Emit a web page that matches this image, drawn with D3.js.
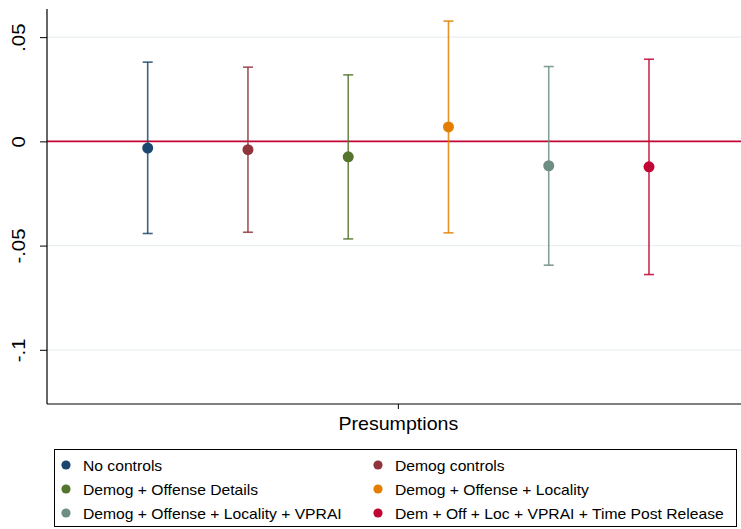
<!DOCTYPE html>
<html>
<head>
<meta charset="utf-8">
<script src="https://cdn.jsdelivr.net/npm/d3@7"></script>
<style>
  html, body { margin: 0; padding: 0; background: #fff; }
  svg { display: block; font-family: "Liberation Sans", Arial, sans-serif; }
</style>
</head>
<body>
<svg id="chart" width="741" height="529"></svg>
<script>
// Model specifications (series), in plotting order
const models = [
  "No controls",
  "Demog controls",
  "Demog + Offense Details",
  "Demog + Offense + Locality",
  "Demog + Offense + Locality + VPRAI",
  "Dem + Off + Loc + VPRAI + Time Post Release"
];
// Point estimates and 95% confidence bounds
const estimates = [-0.0032, -0.0040, -0.0074, 0.0069, -0.0117, -0.0122];
const lowerCI   = [-0.0442, -0.0436, -0.0468, -0.0439, -0.0594, -0.0639];
const upperCI   = [ 0.0380,  0.0356,  0.0319,  0.0577,  0.0359,  0.0394];
const seriesColors = ["#1a476f", "#90353b", "#55752f", "#e37e00", "#6e8e84", "#c10534"];
const yTicks = [-0.1, -0.05, 0, 0.05];
const yTickLabels = ["-.1", "-.05", "0", ".05"];
const groupLabel = "Presumptions";

const svg = d3.select("#chart");
const plot = { left: 47, right: 741, top: 9, bottom: 404 };

const y = d3.scaleLinear().domain([-0.126, 0.0635]).range([plot.bottom, plot.top]);
const x = d3.scalePoint().domain(d3.range(models.length)).range([147.7, 649]);

// Slightly widen text, as the original renderer does
function widen(sel, f) {
  sel.each(function () {
    const len = this.getComputedTextLength();
    d3.select(this).attr("textLength", len * f).attr("lengthAdjust", "spacingAndGlyphs");
  });
}

// Gridlines
svg.append("g").selectAll("line").data(yTicks).join("line")
  .attr("x1", plot.left).attr("x2", plot.right)
  .attr("y1", d => y(d)).attr("y2", d => y(d))
  .attr("stroke", "#eaeff1").attr("stroke-width", 1.2);

// Reference line at zero
svg.append("line")
  .attr("x1", plot.left).attr("x2", plot.right)
  .attr("y1", y(0)).attr("y2", y(0))
  .attr("stroke", "#c10534").attr("stroke-width", 1.6);

// Y axis
const yAxis = d3.axisLeft(y).tickValues(yTicks)
  .tickFormat((d, i) => yTickLabels[i]).tickSize(7).tickPadding(0);
const gy = svg.append("g").attr("transform", `translate(${plot.left},0)`).call(yAxis);
gy.select(".domain").remove();
gy.selectAll(".tick line").attr("stroke", "#000").attr("stroke-width", 1);
gy.selectAll(".tick text")
  .attr("transform", "rotate(-90)")
  .attr("x", 0).attr("y", -22)
  .attr("dy", 0)
  .attr("text-anchor", "middle")
  .style("font-size", "18.5px").style("font-family", "'Liberation Sans', Arial, sans-serif")
  .attr("fill", "#000")
  .call(widen, 1.1);
svg.append("line")
  .attr("x1", plot.left).attr("x2", plot.left)
  .attr("y1", plot.top).attr("y2", plot.bottom)
  .attr("stroke", "#000").attr("stroke-width", 1.2);

// X axis
const xMid = (x(0) + x(models.length - 1)) / 2;
svg.append("line")
  .attr("x1", plot.left).attr("x2", plot.right)
  .attr("y1", plot.bottom).attr("y2", plot.bottom)
  .attr("stroke", "#000").attr("stroke-width", 1.2);
svg.append("line")
  .attr("x1", xMid).attr("x2", xMid)
  .attr("y1", plot.bottom).attr("y2", plot.bottom + 5)
  .attr("stroke", "#000").attr("stroke-width", 1);
svg.append("text")
  .attr("x", xMid).attr("y", 430)
  .attr("text-anchor", "middle")
  .style("font-size", "18.5px")
  .text(groupLabel)
  .call(widen, 1.06);

// Confidence intervals and point estimates
const rows = models.map((m, i) => ({ i, m, est: estimates[i], lo: lowerCI[i], hi: upperCI[i], c: seriesColors[i] }));
const g = svg.append("g");
const cap = 5;
rows.forEach(r => {
  const cx = x(r.i);
  const gg = g.append("g").attr("stroke", r.c).attr("stroke-opacity", 0.85).attr("stroke-width", 1.6);
  gg.append("line").attr("x1", cx).attr("x2", cx).attr("y1", y(r.lo)).attr("y2", y(r.hi));
  gg.append("line").attr("x1", cx - cap).attr("x2", cx + cap).attr("y1", y(r.hi)).attr("y2", y(r.hi));
  gg.append("line").attr("x1", cx - cap).attr("x2", cx + cap).attr("y1", y(r.lo)).attr("y2", y(r.lo));
  g.append("circle").attr("cx", cx).attr("cy", y(r.est)).attr("r", 5.5).attr("fill", r.c);
});

// Legend
const leg = svg.append("g");
leg.append("rect")
  .attr("x", 54.5).attr("y", 449.5).attr("width", 682).attr("height", 77)
  .attr("fill", "#fff").attr("stroke", "#000").attr("stroke-width", 1);
const colX = [66, 378];
const rowY = [465, 489, 513];
rows.forEach(r => {
  const cx = colX[r.i % 2], cy = rowY[Math.floor(r.i / 2)];
  leg.append("circle").attr("cx", cx).attr("cy", cy).attr("r", 4.6).attr("fill", r.c);
  leg.append("text").attr("x", cx + 17).attr("y", cy + 5.5)
    .style("font-size", "14.5px").text(r.m)
    .call(widen, 1.08);
});
</script>
</body>
</html>
